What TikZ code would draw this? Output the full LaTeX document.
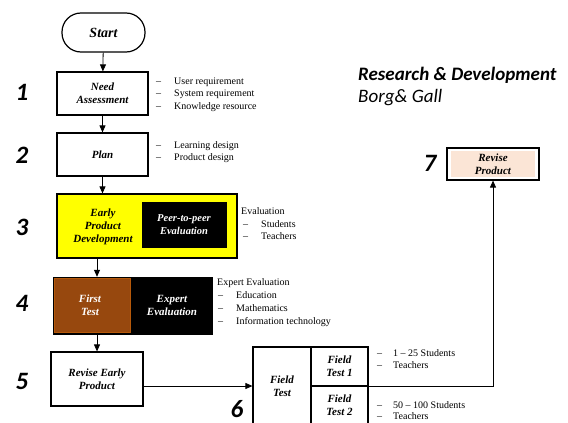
\documentclass[tikz,border=0pt]{standalone}
\usepackage{fontspec}
\setmainfont{Liberation Serif}
\newfontfamily\carl{Carlito}
\usetikzlibrary{arrows.meta,calc}
\definecolor{brownbox}{RGB}{151,72,14}
\definecolor{peach}{RGB}{251,229,214}
\definecolor{yelbox}{RGB}{255,255,0}
\begin{document}
\begin{tikzpicture}[x=1pt,y=-1pt,
  box/.style={draw, line width=1.2pt, inner sep=0pt, align=center,
    font=\fontsize{11}{13}\selectfont\bfseries\itshape},
  lbl/.style={inner sep=0pt, align=center,
    font=\fontsize{11}{13}\selectfont\bfseries\itshape},
  itm/.style={anchor=west, inner sep=0pt, font=\fontsize{10}{12}\selectfont,
    text height=7pt, text depth=2pt},
  num/.style={inner sep=0pt, font=\carl\bfseries\itshape\fontsize{25}{25}\selectfont},
  arr/.style={line width=0.8pt, -{Triangle[length=7pt,width=6pt]}}]
\useasboundingbox (0,0) rectangle (568,423);
\clip (0,0) rectangle (568,423);
\fill[white] (0,0) rectangle (568,423);

% title
\node[anchor=west, inner sep=0pt, font=\carl\bfseries\itshape\fontsize{19}{19}\selectfont] (title) at (358,75) {Research \& Development};
\node[anchor=west, inner sep=0pt, font=\carl\itshape\fontsize{19}{19}\selectfont] (sub) at (358,98) {Borg\& Gall};

% numbers
\node[num] (n1) at (22,92) {1};
\node[num] (n2) at (22,155) {2};
\node[num] (n3) at (22,227) {3};
\node[num] (n4) at (22,303) {4};
\node[num] (n5) at (22,381) {5};
\node[num] (n6) at (237,409) {6};
\node[num] (n7) at (430,163) {7};

% start
\node[box, rounded corners=19pt, minimum width=83pt, minimum height=39pt,
  font=\fontsize{14}{14}\selectfont\bfseries\itshape] (start) at (103.5,32.5) {Start};
\node[box, minimum width=91pt, minimum height=43pt] (need) at (102.5,93.5) {Need\\Assessment};
\node[box, minimum width=91pt, minimum height=43pt] (plan) at (102.5,154.5) {Plan};

% step 3
\node[box, fill=yelbox, minimum width=180pt, minimum height=64pt] (early) at (147,226) {};
\node[lbl] (earlyt) at (103,227) {Early\\Product\\Development};
\node[draw=black, fill=black, inner sep=0pt, minimum width=84pt, minimum height=45pt,
  text=white, align=center, font=\fontsize{10.5}{13}\selectfont\bfseries\itshape] (peer) at (184,224.5) {Peer-to-peer\\Evaluation};

% step 4
\node[fill=black, inner sep=0pt, minimum width=160pt, minimum height=58pt] (box4) at (133,306) {};
\node[fill=brownbox, draw=brownbox!70!orange, line width=1pt, inner sep=0pt, minimum width=76pt, minimum height=54pt] (first) at (92.5,305.5) {};
\node[lbl, text=white] (firstt) at (90,305) {First\\Test};
\node[lbl, text=white] (expt) at (172,305) {Expert\\Evaluation};

% step 5
\node[box, minimum width=92pt, minimum height=54pt] (rev) at (97,379) {Revise Early\\Product};

% step 6
\node[box, minimum width=58pt, minimum height=93pt] (ftl) at (282,393.5) {};
\node[lbl] (ftlt) at (282,386) {Field\\Test};
\node[box, minimum width=57pt, minimum height=39pt] (ft1) at (339.5,366.5) {Field\\Test 1};
\node[box, minimum width=57pt, minimum height=54pt] (ft2) at (339.5,413) {};
\node[lbl] (ft2t) at (339.5,405) {Field\\Test 2};

% step 7
\node[draw, line width=1.2pt, fill=white, inner sep=0pt, minimum width=92pt, minimum height=32pt] (rp) at (493,164) {};
\node[fill=peach, inner sep=0pt, minimum width=84pt, minimum height=26pt, align=center,
  font=\fontsize{11}{13}\selectfont\bfseries\itshape] (rpt) at (493,164) {Revise\\Product};

% lists
\node[itm] (d11) at (156,82) {--};  \node[itm] (t11) at (174,82) {User requirement};
\node[itm] (d12) at (156,94) {--};  \node[itm] (t12) at (174,94) {System requirement};
\node[itm] (d13) at (156,107) {--}; \node[itm] (t13) at (174,107) {Knowledge resource};

\node[itm] (d21) at (156,146) {--}; \node[itm] (t21) at (174,146) {Learning design};
\node[itm] (d22) at (156,158) {--}; \node[itm] (t22) at (174,158) {Product design};

\node[itm] (t30) at (241,212) {Evaluation};
\node[itm] (d31) at (243,225) {--}; \node[itm] (t31) at (261,225) {Students};
\node[itm] (d32) at (243,237) {--}; \node[itm] (t32) at (261,237) {Teachers};

\node[itm] (t40) at (217,283) {Expert Evaluation};
\node[itm] (d41) at (218,296) {--}; \node[itm] (t41) at (236,296) {Education};
\node[itm] (d42) at (218,309) {--}; \node[itm] (t42) at (236,309) {Mathematics};
\node[itm] (d43) at (218,322) {--}; \node[itm] (t43) at (236,322) {Information technology};

\node[itm] (d61) at (377,354) {--}; \node[itm] (t61) at (393,354) {1 -- 25 Students};
\node[itm] (d62) at (377,366) {--}; \node[itm] (t62) at (393,366) {Teachers};
\node[itm] (d63) at (377,406) {--}; \node[itm] (t63) at (393,406) {50 -- 100 Students};
\node[itm] (d64) at (377,417) {--}; \node[itm] (t64) at (393,417) {Teachers};

% connectors
\draw[arr] (start) -- (need);
\draw[arr] (need) -- (plan);
\draw[arr] (plan.south) -- (plan.south |- early.north);
\coordinate (a34) at (97,258);
\draw[arr] (a34) -- (a34 |- box4.north);
\draw[arr] (rev.north |- box4.south) -- (rev.north);
\draw[arr] (rev.east |- ftlt) -- (ftl.west |- ftlt);
\draw[arr] (ft1.south east) -| (rp.south);
\end{tikzpicture}
\end{document}
